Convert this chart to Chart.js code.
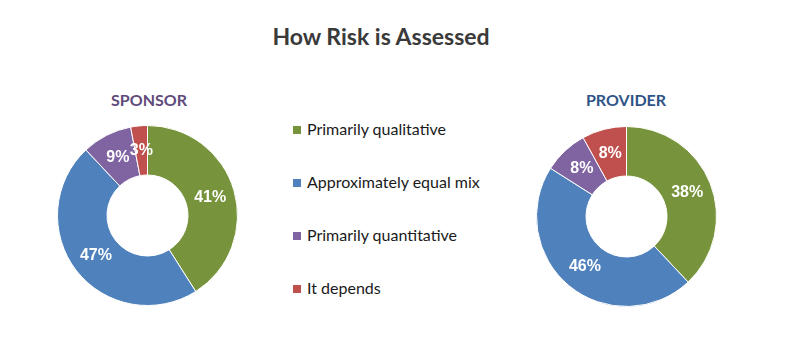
<!DOCTYPE html>
<html>
<head>
<meta charset="utf-8">
<script src="https://cdn.jsdelivr.net/npm/chart.js@4"></script>
<style>
  body { margin: 0; background: #fff; width: 808px; height: 364px; position: relative; overflow: hidden; font-family: Lato, "Open Sans", sans-serif; }
  .abs { position: absolute; }
  #title { left: 0; width: 762px; top: 22px; text-align: center; font-size: 23px; font-weight: bold; color: #3a3a3a; }
  .sub { font-size: 16px; font-weight: bold; width: 200px; text-align: center; top: 90px; }
  #legend .item { position: absolute; left: 0; font-size: 16px; color: #1a1a1a; white-space: nowrap; }
  #legend .box { display: inline-block; width: 8px; height: 8px; margin-right: 6px; vertical-align: 1px; }
</style>
</head>
<body>
<div id="title" class="abs">How Risk is Assessed</div>
<div id="sponsorTitle" class="abs sub" style="left:49px;color:#604a7b;">SPONSOR</div>
<div id="providerTitle" class="abs sub" style="left:526px;color:#2f5487;">PROVIDER</div>
<div class="abs" style="left:57px;top:125px;width:181px;height:181px;"><canvas id="sponsorChart"></canvas></div>
<div class="abs" style="left:536px;top:126px;width:181px;height:181px;"><canvas id="providerChart"></canvas></div>
<div id="legend" class="abs" style="left:293px;top:0;"></div>
<script>
'use strict';
let categories = ['Primarily qualitative', 'Approximately equal mix', 'Primarily quantitative', 'It depends'];
let sponsorValues = [41, 47, 9, 3];
let providerValues = [38, 46, 8, 8];
let sliceColors = ['#77933c', '#4f81bd', '#8064a2', '#c0504d'];

// legend built from the same arrays
let legendEl = document.getElementById('legend');
let legendTops = [119, 172, 225, 278];
for (let i = 0; i < categories.length; i++) {
    let item = document.createElement('div');
    item.className = 'item';
    item.style.top = legendTops[i] + 'px';
    item.innerHTML = `<span class="box" style="background:${sliceColors[i]}"></span>${categories[i]}`;
    legendEl.appendChild(item);
}

let percentLabels = {
    id: 'percentLabels',
    afterDatasetsDraw(chart) {
        let ctx = chart.ctx;
        let meta = chart.getDatasetMeta(0);
        let data = chart.data.datasets[0].data;
        ctx.save();
        ctx.fillStyle = '#ffffff';
        ctx.font = 'bold 16px "Liberation Sans", Arial, sans-serif';
        ctx.textAlign = 'center';
        ctx.textBaseline = 'middle';
        meta.data.forEach(function (arc, i) {
            let p = arc.getCenterPoint();
            ctx.fillText(data[i] + '%', p.x, p.y);
        });
        ctx.restore();
    }
};

function donut(id, values) {
    let ctx = document.getElementById(id).getContext('2d');
    return new Chart(ctx, {
        type: 'doughnut',
        data: {
            labels: categories,
            datasets: [{
                data: values,
                backgroundColor: sliceColors,
                borderColor: '#ffffff',
                borderWidth: 1
            }]
        },
        options: {
            responsive: true,
            maintainAspectRatio: false,
            animation: false,
            cutout: '45%',
            plugins: {
                legend: { display: false },
                tooltip: { enabled: false }
            }
        },
        plugins: [percentLabels]
    });
}

donut('sponsorChart', sponsorValues);
donut('providerChart', providerValues);
</script>
</body>
</html>
